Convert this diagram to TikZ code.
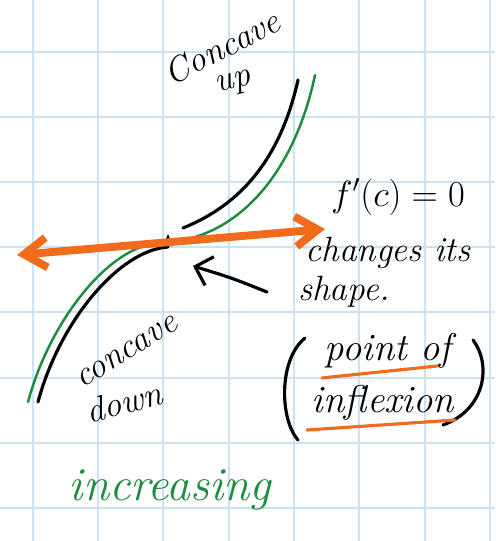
\documentclass[tikz,border=0pt]{standalone}
\usepackage{amsmath}
\usetikzlibrary{arrows.meta, positioning, calc}
\definecolor{cG}{RGB}{204,226,245}
\definecolor{cO}{RGB}{240,108,28}
\definecolor{cV}{RGB}{30,140,64}

\begin{document}
\begin{tikzpicture}[x=0.02cm, y=-0.02cm,
                    pen/.style={line width=1.8pt, line cap=round, line join=round},
                    note/.style={font=\fontsize{20}{22}\selectfont\itshape, inner sep=0pt, align=center}]

    \useasboundingbox (0,0) rectangle (495,541);

    % Grid paper
    \foreach \gx in {33,98,163,229,294,359,425,490}
        \draw[cG, line width=1.1pt] (\gx,0) -- (\gx,541);
    \foreach \gy in {52,117,182,247,312,378,443,508}
        \draw[cG, line width=1.1pt] (0,\gy) -- (495,\gy);

    % Curves (green and black)
    \draw[pen, cV, line width=1.4pt] (315,75) .. controls (295,170) and (240,240) .. (160,243)
                                                 .. controls (110,245) and (50,320) .. (28,402);
    \draw[pen] (298,80) .. controls (280,160) and (240,205) .. (183,228);
    \draw[pen] (168,247) .. controls (120,250) and (60,320) .. (38,402);
    \fill (163,246) -- (168,234) -- (173,246) -- cycle;

    % Tangent line
    \coordinate (lt) at (17,255);
    \coordinate (rt) at (325,229);
    \draw[cO, line width=4.5pt, line cap=round,
          {Straight Barb[length=4.5mm, width=6mm]}-{Straight Barb[length=4.5mm, width=6mm]}] (lt) -- (rt);

    % Labels
    \node[note, rotate=27] (cc) at (222,47) {Concave};
    \node[note, rotate=15] (up) at (234,84) {up};
    \node[note, rotate=32] (cd) at (127,352) {concave};
    \node[note, rotate=14] (dn) at (124,402) {down};
    \node[note, font=\fontsize{22}{24}\selectfont] (fc) at (398,197) {$f'(c)=0$};
    \node[note] (chg) at (388,253) {changes its};
    \node[note, anchor=west] (shp) at (298,292) {shape.};
    \node[note, font=\fontsize{22}{24}\selectfont\itshape] (pt) at (388,351) {point of};
    \node[note, font=\fontsize{22}{24}\selectfont\itshape] (inf) at (383,403) {inflexion};
    \node[note, text=cV, font=\fontsize{27}{30}\selectfont\itshape] (inc) at (170,490) {increasing};

    % Brackets round the note
    \draw[pen] (305,338) .. controls (278,360) and (280,420) .. (298,440);
    \draw[pen] (473,340) .. controls (492,365) and (485,410) .. (443,425);

    % Underlines
    \draw[cO, line width=1.8pt, line cap=round] (322,378) -- (437,366);
    \draw[cO, line width=1.8pt, line cap=round] (307,430) -- (455,420);

    % Pointer to the point c
    \coordinate (tail) at (267,292);
    \coordinate (c) at (193,266);
    \draw[pen, -{Straight Barb[length=3mm, width=6mm]}] (tail) .. controls (232,278) .. (c);

\end{tikzpicture}
\end{document}
